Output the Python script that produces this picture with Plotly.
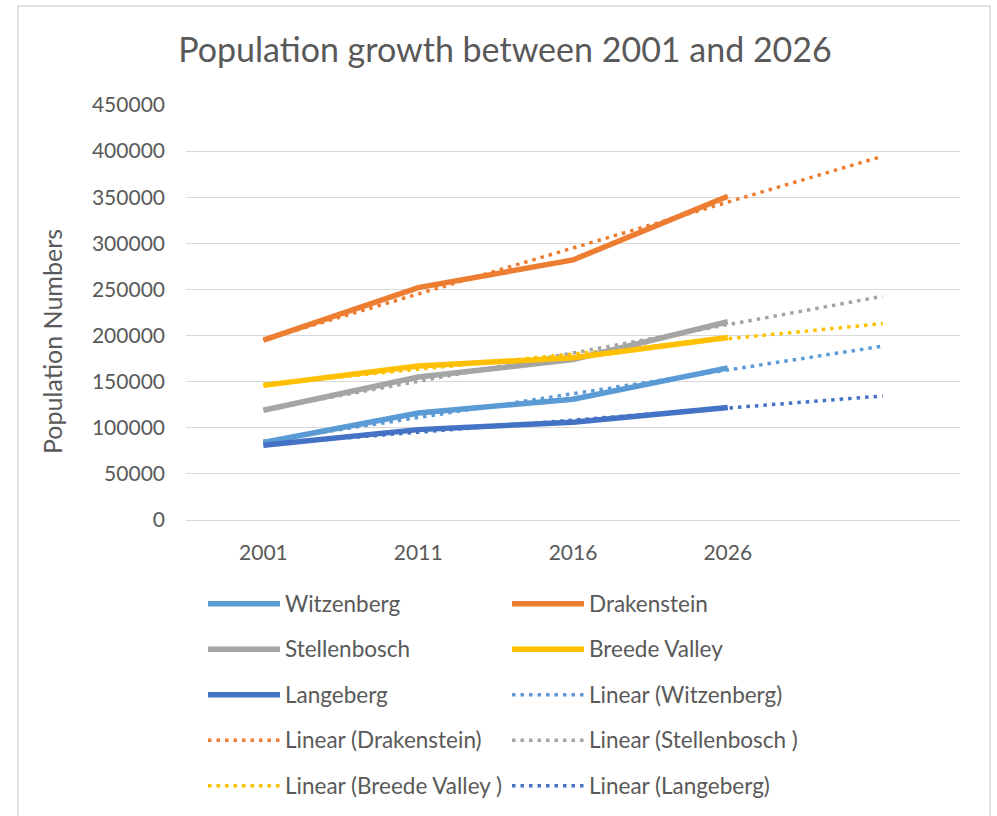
import numpy as np
import plotly.graph_objects as go

# ---- data ----
years = ["2001", "2011", "2016", "2026"]
witzenberg = [84000, 116000, 131000, 165000]
drakenstein = [195000, 252000, 282000, 351000]
stellenbosch = [119000, 155000, 174000, 215000]
breede_valley = [146000, 167000, 176000, 198000]
langeberg = [81000, 98000, 106000, 122000]

series_names = ["Witzenberg", "Drakenstein", "Stellenbosch", "Breede Valley", "Langeberg"]
trend_names = ["Linear (Witzenberg)", "Linear (Drakenstein)", "Linear (Stellenbosch )",
               "Linear (Breede Valley )", "Linear (Langeberg)"]
colors = ["#5B9BD5", "#ED7D31", "#A5A5A5", "#FFC000", "#4472C4"]
forecast_forward = 1  # Excel trendline forecast, in periods

series_values = [witzenberg, drakenstein, stellenbosch, breede_valley, langeberg]

FONT = "Lato, 'Open Sans', sans-serif"
TXT = "#595959"
GRID = "#d9d9d9"

# plot-area pixel geometry
L, R, T, B = 186, 960, 105, 520
PW, PH = R - L, B - T

def px_x(x):
    return (x - L) / PW

def px_y(y):
    return (B - y) / PH

def leg(name):
    return f'<span style="font-size:22.5px;baseline-shift:5px">{name}</span>'

fig = go.Figure()
x_pos = np.arange(len(years))
x_trend = np.arange(len(years) + forecast_forward)

# trendlines (drawn beneath the series)
for i, (vals, tname, col) in enumerate(zip(series_values, trend_names, colors)):
    slope, intercept = np.polyfit(x_pos, vals, 1)
    fig.add_trace(go.Scatter(
        x=x_trend, y=slope * x_trend + intercept, mode="lines", name=leg(tname),
        line=dict(color=col, width=3.5, dash="3.5px,5px"),
        legendrank=6 + i, hoverinfo="skip"))

for i, (vals, name, col) in enumerate(zip(series_values, series_names, colors)):
    fig.add_trace(go.Scatter(
        x=x_pos, y=vals, mode="lines", name=leg(name),
        line=dict(color=col, width=5.5),
        legendrank=1 + i))

fig.update_layout(
    width=997, height=816, autosize=False,
    paper_bgcolor="white", plot_bgcolor="white",
    margin=dict(l=L, r=997 - R, t=T, b=816 - B, autoexpand=False),
    font=dict(family=FONT, color=TXT, size=21),
    title=dict(text="Population growth between 2001 and 2026",
               x=505 / 997, xref="container", xanchor="center",
               y=1 - 50 / 816, yref="container", yanchor="middle",
               font=dict(size=34, color=TXT, family=FONT)),
    showlegend=True,
    legend=dict(orientation="h", x=px_x(203), xanchor="left",
                y=px_y(576), yanchor="top",
                font=dict(size=32.7, color=TXT, family=FONT),
                itemwidth=72, entrywidth=217, entrywidthmode="pixels",
                bgcolor="rgba(0,0,0,0)", traceorder="normal"),
    xaxis=dict(range=[-0.5, len(years) + forecast_forward - 0.5],
               tickmode="array", tickvals=list(x_pos), ticktext=years,
               showgrid=False, zeroline=False, showline=False, ticks="",
               ticklabelstandoff=18, tickfont=dict(size=21, color=TXT)),
    yaxis=dict(range=[0, 450000], dtick=50000, tick0=0, tickformat="d",
               showgrid=True, gridcolor=GRID, gridwidth=1.3,
               zeroline=True, zerolinecolor=GRID, zerolinewidth=1.3,
               showline=False, ticks="", ticklabelstandoff=20,
               tickfont=dict(size=21, color=TXT)),
    annotations=[dict(text="Population Numbers", textangle=-90,
                      xref="paper", yref="paper", x=px_x(52), y=px_y(342),
                      xanchor="center", yanchor="middle", showarrow=False,
                      font=dict(size=25, color=TXT, family=FONT))],
    shapes=[dict(type="rect", xref="paper", yref="paper",
                 x0=px_x(18), x1=px_x(990), y0=px_y(840), y1=px_y(6),
                 line=dict(color=GRID, width=1.5), fillcolor="rgba(0,0,0,0)",
                 layer="below")],
)

fig.write_html("out.html")
